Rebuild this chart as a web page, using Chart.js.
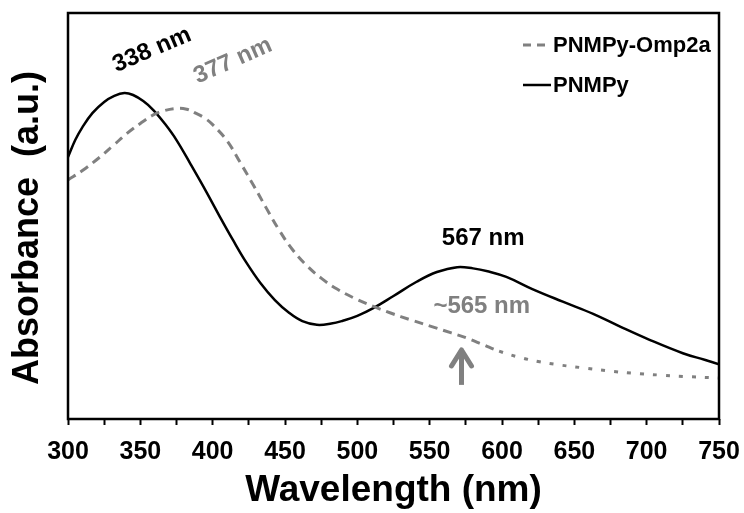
<!DOCTYPE html>
<html>
<head>
<meta charset="utf-8">
<script src="https://cdn.jsdelivr.net/npm/chart.js@4.4.0/dist/chart.umd.min.js"></script>
<style>
  html, body { margin: 0; padding: 0; background: #fff; }
</style>
</head>
<body>
<canvas id="chart" width="744" height="513"></canvas>
<script>
// UV-vis spectra, values (arbitrary absorbance units 0..1)
var pnmpyNm  = [300, 305, 310, 317, 325, 332, 339, 345, 352, 359, 367, 375, 385, 396, 405, 414, 423, 433, 443, 453,
                462, 472, 482, 490, 500, 511, 525, 541, 555, 569, 580, 590, 603, 621, 642, 663, 682, 702, 725, 740, 750];
var pnmpyAbs = [0.645, 0.687, 0.719, 0.754, 0.781, 0.796, 0.803, 0.798, 0.783, 0.761, 0.727, 0.687, 0.626, 0.557, 0.498,
                0.441, 0.387, 0.335, 0.293, 0.261, 0.241, 0.232, 0.235, 0.242, 0.254, 0.273, 0.303, 0.338, 0.362, 0.374,
                0.371, 0.364, 0.350, 0.320, 0.289, 0.259, 0.227, 0.195, 0.162, 0.146, 0.135];

var omp2aNm  = [300, 310, 322, 332, 341, 350, 359, 366, 375, 382, 389, 395, 400, 410, 419, 428, 437, 446, 455, 465,
                475, 486, 500, 512, 523, 537, 552, 565, 576, 587, 598, 612, 626, 640, 656, 672, 690, 710, 730, 750];
var omp2aAbs = [0.589, 0.612, 0.645, 0.676, 0.704, 0.728, 0.749, 0.759, 0.765, 0.763, 0.752, 0.740, 0.725, 0.685, 0.632,
                0.577, 0.520, 0.465, 0.418, 0.378, 0.347, 0.320, 0.294, 0.276, 0.261, 0.244, 0.227, 0.212, 0.199, 0.183,
                0.167, 0.152, 0.141, 0.133, 0.126, 0.119, 0.113, 0.108, 0.104, 0.101];

var xTicks = [300, 350, 400, 450, 500, 550, 600, 650, 700, 750];

// peak labels, placed in data coordinates
var notes = [
  { text: '338 nm',  nm: 358, v: 0.909, angle: -23, color: '#000' },
  { text: '377 nm',  nm: 414, v: 0.882, angle: -24, color: '#808080' },
  { text: '567 nm',  nm: 587, v: 0.446, angle: 0,   color: '#000' },
  { text: '~565 nm', nm: 586, v: 0.278, angle: 0,   color: '#808080' }
];
var arrowAt = { nm: 572, from: 0.084, to: 0.175 };

var FONT = "'Liberation Sans', Arial, sans-serif";
var GRAY = '#808080';

function pts(xs, ys) {
  return xs.map(function (x, i) { return { x: x, y: ys[i] }; });
}

var decor = {
  id: 'decor',
  afterDatasetsDraw: function (chart) {
    var ctx = chart.ctx, a = chart.chartArea;
    var xs = chart.scales.x, ys = chart.scales.y;
    ctx.save();

    // frame
    ctx.strokeStyle = '#000';
    ctx.lineWidth = 2.5;
    ctx.setLineDash([]);
    ctx.strokeRect(a.left, a.top, a.right - a.left, a.bottom - a.top);

    // peak labels
    ctx.font = 'bold 24px ' + FONT;
    ctx.textAlign = 'center';
    ctx.textBaseline = 'middle';
    notes.forEach(function (n) {
      ctx.save();
      ctx.translate(xs.getPixelForValue(n.nm), ys.getPixelForValue(n.v));
      ctx.rotate(n.angle * Math.PI / 180);
      ctx.fillStyle = n.color;
      ctx.fillText(n.text, 0, 0);
      ctx.restore();
    });

    // arrow under the shoulder
    var ax = xs.getPixelForValue(arrowAt.nm);
    var y0 = ys.getPixelForValue(arrowAt.from), y1 = ys.getPixelForValue(arrowAt.to);
    ctx.strokeStyle = GRAY;
    ctx.lineWidth = 5;
    ctx.lineCap = 'butt';
    ctx.beginPath(); ctx.moveTo(ax, y0); ctx.lineTo(ax, y1 + 6); ctx.stroke();
    ctx.lineCap = 'round';
    ctx.lineJoin = 'round';
    ctx.beginPath();
    ctx.moveTo(ax - 10, y1 + 18); ctx.lineTo(ax, y1 + 2); ctx.lineTo(ax + 10, y1 + 18);
    ctx.stroke();

    // legend
    var lx = a.right - 196, tx = a.right - 166;
    ctx.lineCap = 'butt';
    ctx.lineWidth = 3;
    ctx.strokeStyle = GRAY;
    ctx.setLineDash([8, 6]);
    ctx.beginPath(); ctx.moveTo(lx, a.top + 32); ctx.lineTo(lx + 28, a.top + 32); ctx.stroke();
    ctx.setLineDash([]);
    ctx.strokeStyle = '#000';
    ctx.lineWidth = 2.5;
    ctx.beginPath(); ctx.moveTo(lx, a.top + 72); ctx.lineTo(lx + 28, a.top + 72); ctx.stroke();
    ctx.font = 'bold 22px ' + FONT;
    ctx.textAlign = 'left';
    ctx.fillStyle = '#000';
    ctx.fillText('PNMPy-Omp2a', tx, a.top + 33);
    ctx.fillText('PNMPy', tx, a.top + 73);

    // y axis title
    ctx.save();
    ctx.translate(28, 228);
    ctx.rotate(-Math.PI / 2);
    ctx.font = 'bold 36px ' + FONT;
    ctx.textAlign = 'center';
    ctx.fillText('Absorbance  (a.u.)', 0, 0);
    ctx.restore();

    ctx.restore();
  }
};

new Chart(document.getElementById('chart'), {
  type: 'line',
  data: {
    datasets: [
      {
        label: 'PNMPy-Omp2a',
        data: pts(omp2aNm, omp2aAbs),
        borderColor: GRAY,
        borderWidth: 3,
        borderDash: [9, 6],
        segment: {
          borderDash: function (c) { return c.p0.parsed.x >= 598 ? [4, 9] : [9, 6]; }
        },
        pointRadius: 0,
        tension: 0.4,
        fill: false
      },
      {
        label: 'PNMPy',
        data: pts(pnmpyNm, pnmpyAbs),
        borderColor: '#000',
        borderWidth: 2.5,
        pointRadius: 0,
        tension: 0.4,
        fill: false
      }
    ]
  },
  options: {
    responsive: false,
    animation: false,
    layout: { padding: { top: 13, right: 25, left: 0, bottom: 0 } },
    plugins: { legend: { display: false }, tooltip: { enabled: false } },
    scales: {
      x: {
        type: 'linear',
        min: 300,
        max: 750,
        afterFit: function (s) { s.height = 94; s.paddingLeft = 0; s.paddingRight = 0; },
        afterBuildTicks: function (s) {
          var t = [];
          for (var v = 300; v <= 750; v += 25) t.push({ value: v });
          s.ticks = t;
        },
        ticks: {
          autoSkip: false,
          maxRotation: 0,
          padding: 12,
          color: '#000',
          font: { family: FONT, size: 25, weight: 'bold' },
          callback: function (v) { return xTicks.indexOf(v) >= 0 ? String(v) : ''; }
        },
        grid: { display: true, drawOnChartArea: false, tickLength: 6, tickWidth: 2, color: '#000' },
        border: { display: false },
        title: {
          display: true,
          text: 'Wavelength (nm)',
          color: '#000',
          font: { family: FONT, size: 37, weight: 'bold' },
          padding: { top: 0, bottom: 0 }
        }
      },
      y: {
        min: 0,
        max: 1,
        afterFit: function (s) { s.width = 68; },
        ticks: { display: false },
        grid: { display: false },
        border: { display: false }
      }
    }
  },
  plugins: [decor]
});
</script>
</body>
</html>
